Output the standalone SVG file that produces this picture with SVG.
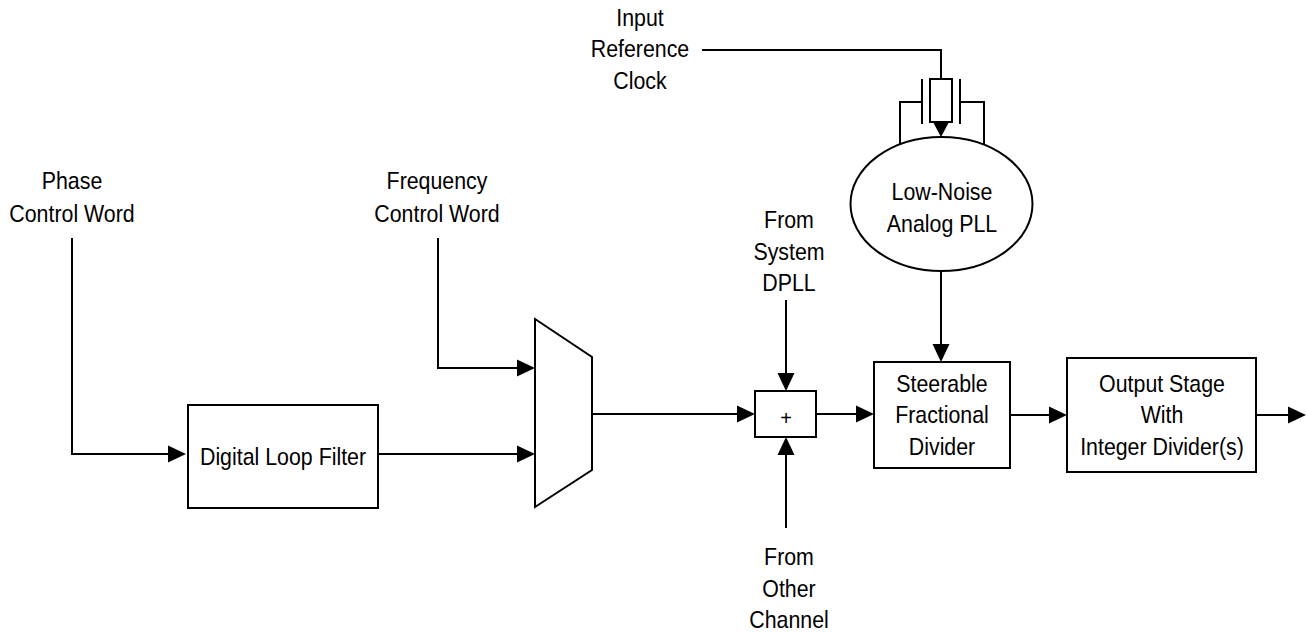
<svg xmlns="http://www.w3.org/2000/svg" width="1307" height="632" viewBox="0 0 1307 632">
<defs>
<style>
.ln{fill:none;stroke:#000;stroke-width:2}
.bx{fill:#fff;stroke:#000;stroke-width:2}
.t{font-family:"Liberation Sans",Arial,sans-serif;font-size:24px;fill:#000;text-anchor:middle;transform-box:fill-box;transform-origin:center;transform:scaleX(0.89)}
.p{font-family:"Liberation Sans",Arial,sans-serif;font-size:20px;fill:#000;text-anchor:middle}
</style>
<marker id="ah" viewBox="0 0 18 18" refX="14" refY="9" markerWidth="18" markerHeight="18" markerUnits="userSpaceOnUse" orient="auto">
<path d="M0,0.5 L18,9 L0,17.5 Z" fill="#000"/>
</marker>
</defs>
<rect width="1307" height="632" fill="#fff"/>

<g id="connectors">
<polyline class="ln" points="72,238 72,454 182,454" marker-end="url(#ah)"/>
<polyline class="ln" points="438,238 438,368 531,368" marker-end="url(#ah)"/>
<line class="ln" x1="378" y1="454" x2="531" y2="454" marker-end="url(#ah)"/>
<line class="ln" x1="592" y1="414" x2="751" y2="414" marker-end="url(#ah)"/>
<line class="ln" x1="786" y1="300" x2="786" y2="387" marker-end="url(#ah)"/>
<line class="ln" x1="786" y1="528" x2="786" y2="441" marker-end="url(#ah)"/>
<line class="ln" x1="816" y1="414" x2="870" y2="414" marker-end="url(#ah)"/>
<line class="ln" x1="941" y1="271" x2="941" y2="358" marker-end="url(#ah)"/>
<line class="ln" x1="1010" y1="415" x2="1063" y2="415" marker-end="url(#ah)"/>
<line class="ln" x1="1256" y1="415" x2="1302" y2="415" marker-end="url(#ah)"/>
<polyline class="ln" points="702,50 941,50 941,79"/>
</g>

<g id="input-ref-clock">
<text class="t" x="640" y="26">Input</text>
<text class="t" x="640" y="57">Reference</text>
<text class="t" x="640" y="89">Clock</text>
</g>

<g id="crystal">
<rect class="ln" x="930" y="79" width="22" height="43"/>
<line class="ln" x1="922" y1="79" x2="922" y2="124"/>
<line class="ln" x1="960" y1="79" x2="960" y2="124"/>
<polyline class="ln" points="922,102 900,102 900,150"/>
<polyline class="ln" points="960,102 984,102 984,150"/>
<polygon points="933,122 949,122 941,137" fill="#000"/>
</g>

<g id="analog-pll">
<ellipse class="bx" cx="941.5" cy="204" rx="91" ry="67"/>
<text class="t" x="942" y="200">Low-Noise</text>
<text class="t" x="942" y="232">Analog PLL</text>
</g>

<g id="phase-label">
<text class="t" x="72" y="189">Phase</text>
<text class="t" x="72" y="222">Control Word</text>
</g>

<g id="freq-label">
<text class="t" x="437" y="189">Frequency</text>
<text class="t" x="437" y="222">Control Word</text>
</g>

<g id="loop-filter">
<rect class="bx" x="188" y="405" width="190" height="103"/>
<text class="t" x="283" y="465">Digital Loop Filter</text>
</g>

<g id="mux">
<polygon class="bx" points="535,319 592,357 592,470 535,507"/>
</g>

<g id="dpll-label">
<text class="t" x="789" y="228">From</text>
<text class="t" x="789" y="260">System</text>
<text class="t" x="789" y="291">DPLL</text>
</g>

<g id="adder">
<rect class="bx" x="755" y="391" width="61" height="46"/>
<text class="p" x="786" y="425">+</text>
</g>

<g id="other-label">
<text class="t" x="789" y="565">From</text>
<text class="t" x="789" y="597">Other</text>
<text class="t" x="789" y="628">Channel</text>
</g>

<g id="frac-divider">
<rect class="bx" x="874" y="362" width="136" height="106"/>
<text class="t" x="942" y="392">Steerable</text>
<text class="t" x="942" y="423">Fractional</text>
<text class="t" x="942" y="455">Divider</text>
</g>

<g id="output-stage">
<rect class="bx" x="1067" y="358" width="189" height="114"/>
<text class="t" x="1162" y="392">Output Stage</text>
<text class="t" x="1162" y="423">With</text>
<text class="t" x="1162" y="455">Integer Divider(s)</text>
</g>
</svg>
